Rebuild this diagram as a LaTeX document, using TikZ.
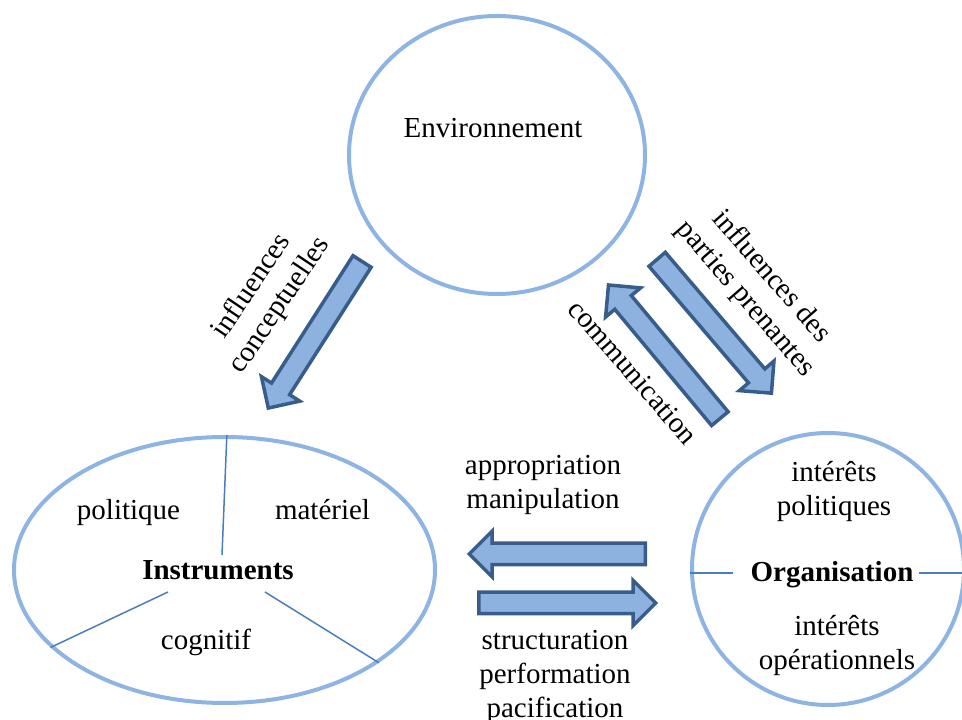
\documentclass[tikz,border=0pt]{standalone}
\usepackage{fontspec}
\setmainfont{Liberation Serif}
\usepackage{tikz}
\usetikzlibrary{shapes.geometric,shapes.arrows}

\definecolor{ringblue}{RGB}{142,180,227}
\definecolor{arrowfill}{RGB}{141,178,224}
\definecolor{arrowedge}{RGB}{56,93,138}
\definecolor{splitblue}{RGB}{74,126,187}

\begin{document}
\begin{tikzpicture}[x=1pt,y=1pt,font=\fontsize{29}{34}\selectfont]
  \tikzstyle{ring}=[draw=ringblue,line width=4pt,inner sep=0pt]
  \tikzstyle{blockarrow}=[single arrow,draw=arrowedge,fill=arrowfill,line width=3.5pt,
                          inner sep=9pt,single arrow head extend=12pt,
                          single arrow tip angle=90,anchor=tail]
  \tikzstyle{split}=[draw=splitblue,line width=1.5pt]
  \tikzstyle{words}=[align=center,inner sep=0pt]

  \useasboundingbox (0,0) rectangle (962,720);

  \node[ring,ellipse,minimum width=296pt,minimum height=278pt] (E) at (497,565) {};
  \node[ring,ellipse,minimum width=421pt,minimum height=266pt] (I) at (224.5,150) {};
  \node[ring,circle,minimum size=272pt]                        (O) at (828,151) {};

  \node[words,anchor=base] (Et) at (493,582)   {Environnement};
  \node[words,anchor=base] (It) at (218,140)   {\bfseries Instruments};
  \node[words,anchor=base] (I1) at (128.5,200) {politique};
  \node[words,anchor=base] (I2) at (322.5,200) {matériel};
  \node[words,anchor=base] (I3) at (206,70)    {cognitif};
  \node[words,anchor=base] (Ot) at (832,138)   {\bfseries Organisation};
  \node[words]             (O1) at (834,228)   {intérêts\\politiques};
  \node[words]             (O2) at (837,74)    {intérêts\\opérationnels};

  % the three parts of the instruments
  \coordinate (Ic1) at (222,165);
  \coordinate (Ic2) at (168,128);
  \coordinate (Ic3) at (265,128);
  \draw[split] (I.89) -- (Ic1);
  \draw[split] (I.204.7) -- (Ic2);
  \draw[split] (I.329.5) -- (Ic3);

  \coordinate (Ol) at (733,147);
  \coordinate (Or) at (919,147);
  \draw[split] (Ol -| O.west) -- (Ol);
  \draw[split] (Or) -- (Or -| O.east);

  \node[blockarrow,rotate=237.4,minimum height=174pt] (A1) at (363,460) {};
  \node[blockarrow,rotate=-49.5,minimum height=176pt] (A2) at (656,462) {};
  \node[blockarrow,rotate=129.8,minimum height=174pt] (A3) at (721,300) {};
  \node[blockarrow,rotate=180,minimum height=176pt]   (A4) at (647,166) {};
  \node[blockarrow,minimum height=177pt]              (A5) at (477,117) {};

  \node[words,rotate=56]  (L1) at (266,424) {influences\\conceptuelles};
  \node[words,rotate=-49] (L2) at (758,432) {influences des\\parties prenantes};
  \node[words,rotate=-49] (L3) at (633,348) {communication};
  \node[words]            (L4) at (543,235) {appropriation\\manipulation};
  \node[words]            (L5) at (555,43)  {structuration\\performation\\pacification};
\end{tikzpicture}
\end{document}
